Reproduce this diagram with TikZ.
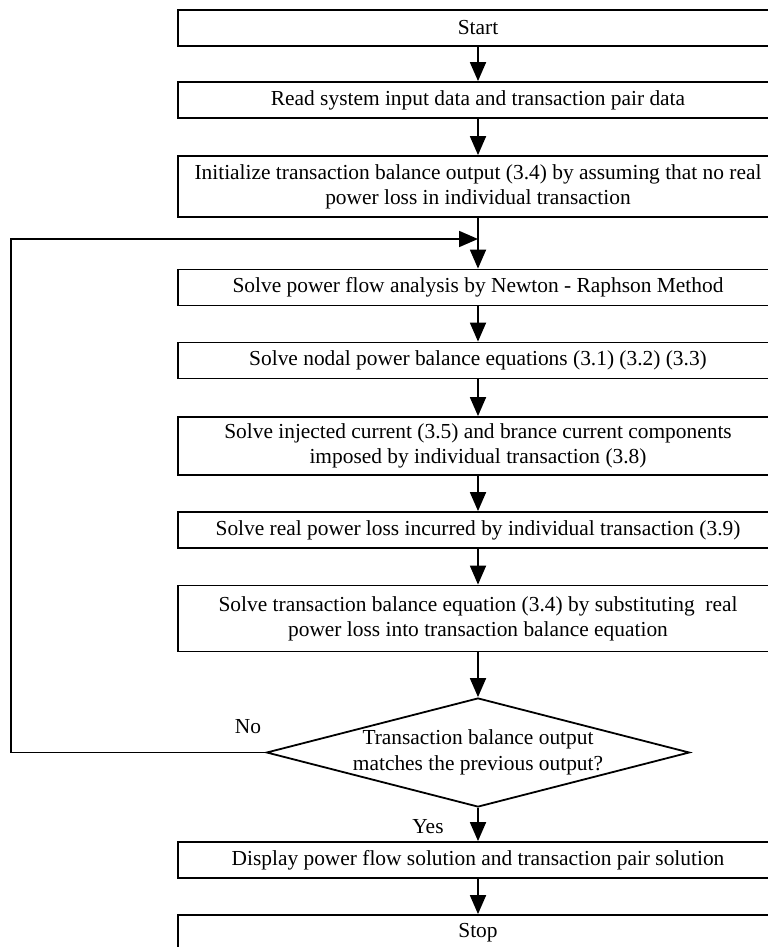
\documentclass[tikz,border=0pt]{standalone}
\usepackage{fontspec}
\setmainfont{Liberation Serif}
\usetikzlibrary{shapes.geometric,arrows.meta}

\begin{document}
\begin{tikzpicture}[x=0.5pt,y=-0.5pt,
        procbox/.style={draw,line width=0.9pt,minimum width=300pt,minimum height=18pt,
            inner sep=0pt,align=center,font=\fontsize{10.7}{12.4}\selectfont},
        decision/.style={draw,diamond,line width=0.9pt,minimum width=211.5pt,
            minimum height=54.5pt,inner sep=0pt},
        flow/.style={line width=0.9pt,-{Triangle[length=9.5pt,width=8pt]}},
        lbl/.style={align=center,font=\fontsize{10.7}{12.8}\selectfont}]
        \useasboundingbox (0,0) rectangle (767,947);
        \node[procbox] (start) at (478,28) {Start};
        \node[procbox] (read) at (478,100) {Read system input data and transaction pair data};
        \node[procbox,minimum height=30.5pt] (init) at (478,186.5)
            {Initialize transaction balance output (3.4) by assuming that no real\\power loss in individual transaction};
        \node[procbox] (pf) at (478,287.5) {Solve power flow analysis by Newton - Raphson Method};
        \node[procbox] (nodal) at (478,360.5) {Solve nodal power balance equations (3.1) (3.2) (3.3)};
        \node[procbox,minimum height=29pt] (inj) at (478,446)
            {Solve injected current (3.5) and brance current components\\imposed by individual transaction (3.8)};
        \node[procbox] (loss) at (478,530) {Solve real power loss incurred by individual transaction (3.9)};
        \node[procbox,minimum height=33pt] (bal) at (478,618.5)
            {Solve transaction balance equation (3.4) by substituting\ \ real\\power loss into transaction balance equation};
        \node[decision] (chk) at (478,752.5) {};
        \node[lbl] (chktxt) at (chk) {Transaction balance output\\matches the previous output?};
        \node[procbox] (disp) at (478,860) {Display power flow solution and transaction pair solution};
        \node[procbox] (stop) at (478,933) {Stop};
        \node[lbl] (no) at (248,727) {No};
        \node[lbl] (yes) at (428,827) {Yes};
        \coordinate (loopin) at (478,239);
        \coordinate (loopcorner) at (11,752.5);
        \draw[flow] (start) -- (read);
        \draw[flow] (read) -- (init);
        \draw[flow] (init) -- (pf);
        \draw[flow] (pf) -- (nodal);
        \draw[flow] (nodal) -- (inj);
        \draw[flow] (inj) -- (loss);
        \draw[flow] (loss) -- (bal);
        \draw[flow] (bal) -- (chk);
        \draw[flow] (chk) -- (disp);
        \draw[flow] (disp) -- (stop);
        \draw[flow] (chk.west) -- (loopcorner) |- (loopin);
    \end{tikzpicture}
\end{document}
